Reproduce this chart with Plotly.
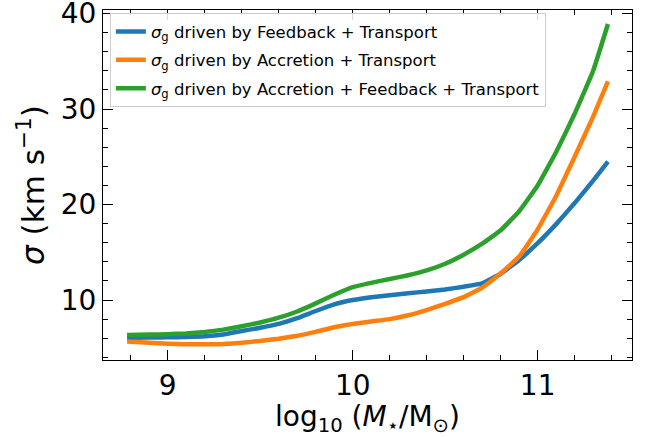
import plotly.graph_objects as go

# log10 stellar mass grid
log_mstar = [8.78, 8.9, 9.0, 9.1, 9.2, 9.3, 9.4, 9.5, 9.6, 9.7, 9.8, 9.9, 10.0,
             10.1, 10.2, 10.3, 10.4, 10.5, 10.6, 10.7, 10.8, 10.9, 11.0,
             11.1, 11.2, 11.3, 11.38]

# sigma_g in km/s for the three models
sig_feedback = [6.05, 6.07, 6.1, 6.13, 6.2, 6.4, 6.75, 7.1, 7.5, 8.1, 8.85, 9.55, 10.0,
                10.3, 10.5, 10.7, 10.9, 11.1, 11.4, 11.75, 12.75, 14.2, 15.95,
                17.95, 20.15, 22.5, 24.5]
sig_accretion = [5.65, 5.52, 5.43, 5.38, 5.36, 5.4, 5.52, 5.72, 5.95, 6.25, 6.67, 7.15, 7.5,
                 7.75, 8.0, 8.4, 8.95, 9.6, 10.3, 11.3, 12.8, 14.55, 17.4,
                 20.9, 25.0, 29.2, 32.9]
sig_both = [6.35, 6.38, 6.42, 6.5, 6.65, 6.9, 7.25, 7.65, 8.15, 8.8, 9.65, 10.55, 11.35,
            11.8, 12.2, 12.6, 13.1, 13.8, 14.75, 15.9, 17.3, 19.3, 22.0,
            25.5, 29.5, 34.0, 38.9]

names = ["<i>σ</i><sub>g</sub> driven by Feedback + Transport",
         "<i>σ</i><sub>g</sub> driven by Accretion + Transport",
         "<i>σ</i><sub>g</sub> driven by Accretion + Feedback + Transport"]
colors = ["#1f77b4", "#ff7f0e", "#2ca02c"]

fig = go.Figure()
for i, (ys, name, col) in enumerate(zip([sig_feedback, sig_accretion, sig_both], names, colors)):
    fig.add_trace(go.Scatter(x=log_mstar, y=ys, mode="lines", name=name, legendgroup=f"g{i}",
                             line=dict(color=col, width=4.5, shape="spline", smoothing=0.3)))

axis_common = dict(showline=True, linecolor="black", linewidth=1.2, mirror="allticks",
                   ticks="inside", ticklen=10, tickwidth=1.2, tickcolor="black",
                   showgrid=False, zeroline=False, automargin=False,
                   ticklabeloverflow="allow",
                   tickfont=dict(family="DejaVu Sans", size=28, color="black"))

fig.update_xaxes(range=[8.65, 11.51], tickvals=[9, 10, 11],
                 minor=dict(ticks="inside", dtick=0.2, tick0=8.0, ticklen=5, tickwidth=1, tickcolor="black"),
                 title=dict(text="log<sub>10</sub> (<i>M</i><sub>⋆</sub>/M<sub>⊙</sub>)",
                            font=dict(family="DejaVu Sans", size=28, color="black"), standoff=6),
                 **axis_common)
fig.update_yaxes(range=[3.72, 40.37], tickvals=[10, 20, 30, 40],
                 minor=dict(ticks="inside", dtick=2, tick0=0, ticklen=5, tickwidth=1, tickcolor="black"),
                 title=dict(text="<i>σ</i> (km s<sup>−1</sup>)",
                            font=dict(family="DejaVu Sans", size=31, color="black"), standoff=6),
                 **axis_common)

fig.update_layout(width=645, height=437, plot_bgcolor="white", paper_bgcolor="white",
                  margin=dict(l=103, r=13, t=10, b=77),
                  legend=dict(x=0.013, y=0.991, xanchor="left", yanchor="top",
                              bgcolor="rgba(255,255,255,0.85)", bordercolor="#cccccc", borderwidth=1,
                              font=dict(family="DejaVu Sans", size=16.5, color="black"),
                              itemwidth=30, tracegroupgap=4))

# drop the default 8px page margin so the figure sits at the window corner
fig.write_html("out.html", config={"displayModeBar": False},
               post_script="document.body.style.margin='0';")
